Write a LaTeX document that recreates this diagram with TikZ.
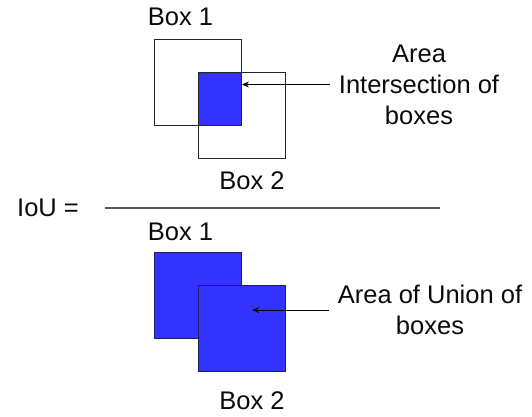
\documentclass[tikz,border=0pt]{standalone}
\usepackage{fontspec}
\setmainfont{Liberation Sans}
\usetikzlibrary{arrows.meta}
\definecolor{boxblue}{RGB}{51,51,255}
\definecolor{navy}{RGB}{30,30,90}
\definecolor{txt}{RGB}{10,10,10}
\tikzset{
  lbl/.style={font=\fontsize{25.5}{31}\selectfont, text=txt, inner sep=0pt, anchor=base},
  blk/.style={font=\fontsize{25.5}{31}\selectfont, text=txt, inner ysep=0pt, inner xsep=9pt, align=center},
  outline/.style={draw=black!85, line width=0.9pt, minimum width=87pt, minimum height=86pt, anchor=north west, inner sep=0pt},
  filled/.style={draw=navy, fill=boxblue, line width=0.9pt, minimum width=87pt, minimum height=86pt, anchor=north west, inner sep=0pt},
  arr/.style={draw=black, line width=0.8pt, -{Stealth[length=7pt,width=6pt]}},
}
\begin{document}
\begin{tikzpicture}[x=1pt,y=-1pt]
\useasboundingbox (0,0) rectangle (532,416);
% top: intersection
\node[outline] (t1) at (154,39) {};
\node[outline] (t2) at (198,72) {};
\node[draw=black!85, fill=boxblue, line width=0.9pt, minimum width=43pt, minimum height=53pt, anchor=north west, inner sep=0pt] (inter) at (198,72) {};
\node[lbl] (t1l) at (180.5,25) {Box 1};
\node[lbl] (t2l) at (252,189) {Box 2};
\node[blk] (lab1) at (419,84.5) {Area\\Intersection of\\boxes};
\draw[arr] (lab1.west) -- (lab1.west -| inter.east);
% fraction
\node[lbl, anchor=base west] (iou) at (17,216) {IoU =};
\coordinate (fl) at (105,208);
\coordinate (fr) at (440,208);
\draw[black!65, line width=1.2pt] (fl) -- (fr);
% bottom: union
\node[filled] (u1) at (154,252) {};
\node[filled] (u2) at (198,285) {};
\node[lbl] (u1l) at (180.5,240) {Box 1};
\node[lbl] (u2l) at (252,409) {Box 2};
\node[blk] (lab2) at (430,310) {Area of Union of\\boxes};
\coordinate (tip2) at (252,311);
\draw[arr] (lab2.west) -- (lab2.west -| tip2);
\end{tikzpicture}
\end{document}
